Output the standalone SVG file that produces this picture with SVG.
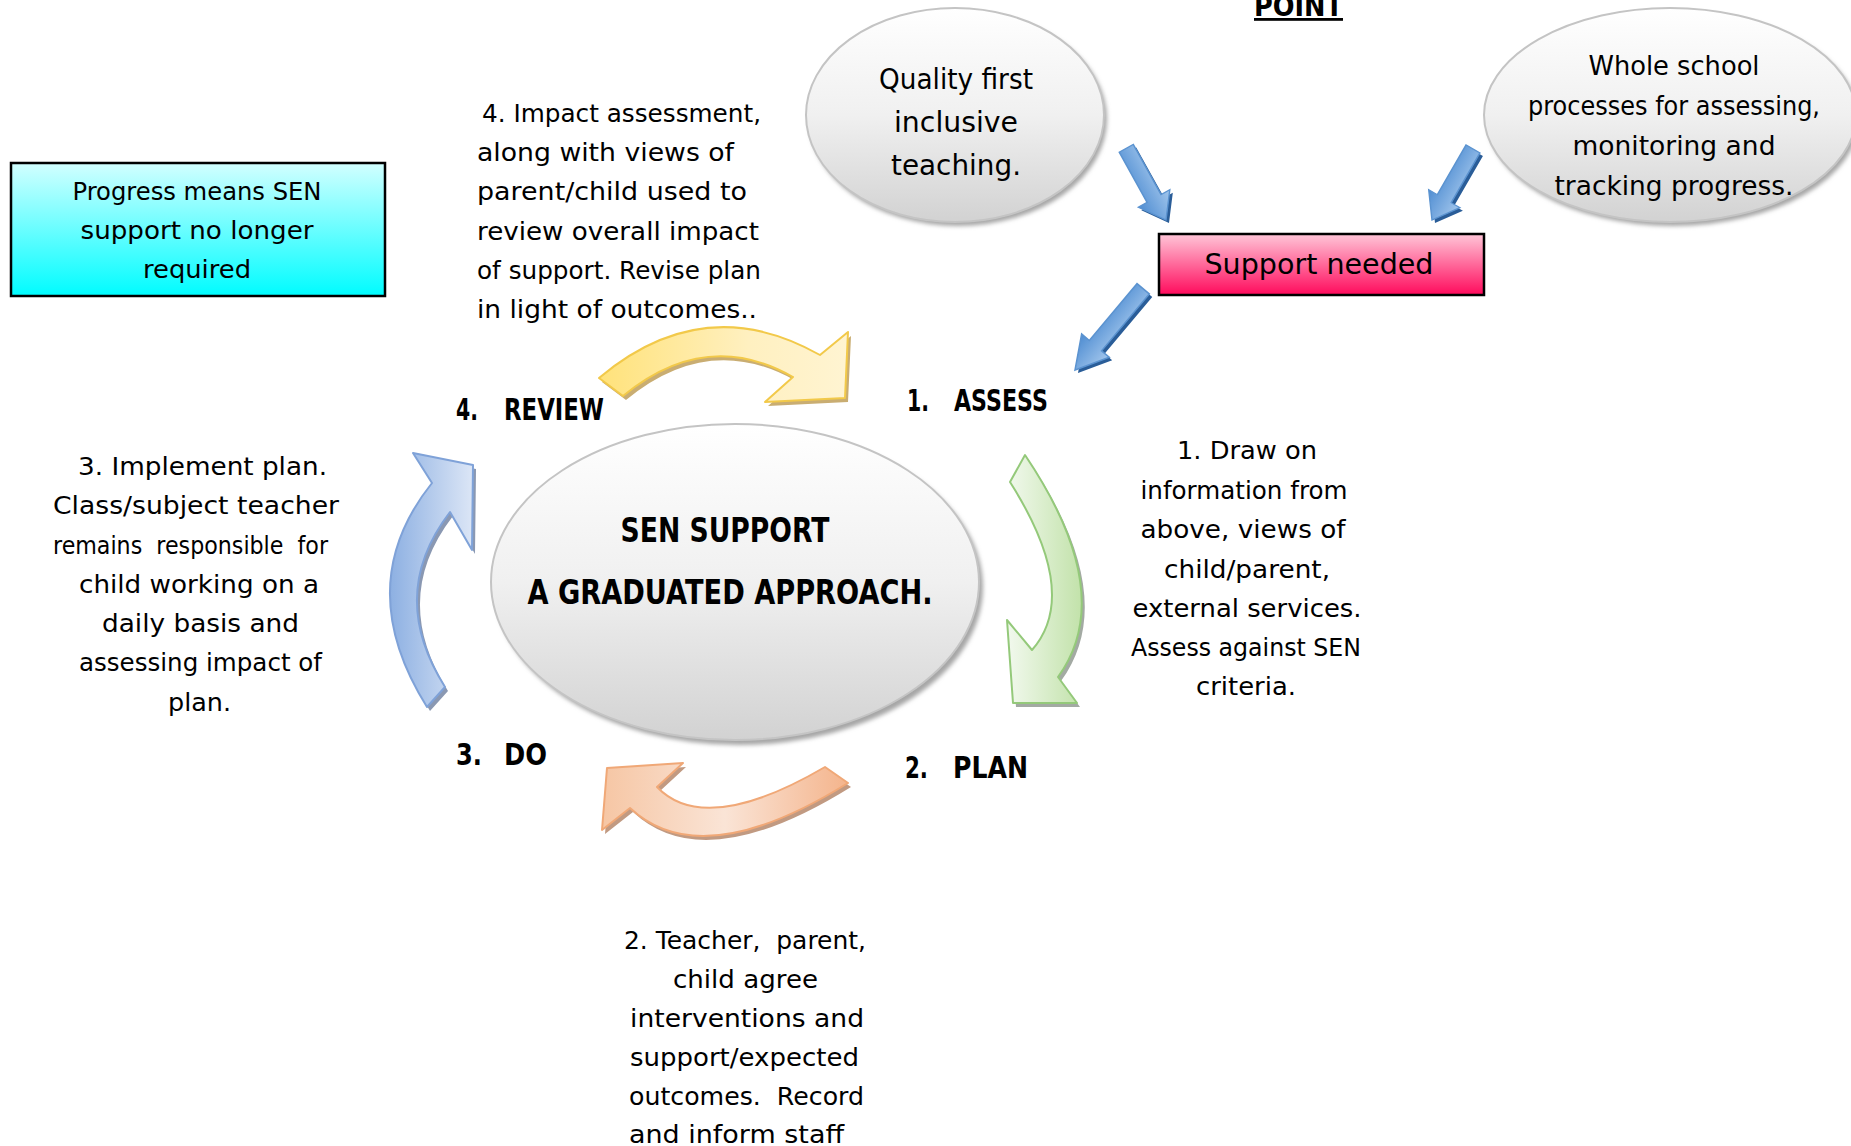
<svg xmlns="http://www.w3.org/2000/svg" width="1851" height="1146" viewBox="0 0 1851 1146">
<style>
  text { font-family: "DejaVu Sans", Verdana, sans-serif; fill: #000; }
  .body { font-size: 25px; }
  .mid { text-anchor: middle; }
  .bold { font-weight: bold; }
  .pre { white-space: pre; }
  .lab { font-size: 30px; font-weight: bold; }
  .ell { stroke: #c4c4c4; stroke-width: 2; }
  .shadow { fill: #a6a6a6; filter: url(#blur); }
</style>
<defs>
  <filter id="blur" x="-10%" y="-10%" width="120%" height="120%"><feGaussianBlur stdDeviation="2"/></filter>
  <linearGradient id="gGray" x1="0" y1="0" x2="0" y2="1">
    <stop offset="0" stop-color="#ffffff"/><stop offset="0.5" stop-color="#f0f0f0"/><stop offset="1" stop-color="#d2d2d2"/>
  </linearGradient>
  <linearGradient id="gPink" x1="0" y1="0" x2="0" y2="1">
    <stop offset="0" stop-color="#ffc6d8"/><stop offset="1" stop-color="#ff0a5c"/>
  </linearGradient>
  <linearGradient id="gCyan" x1="0" y1="0" x2="0" y2="1">
    <stop offset="0" stop-color="#d2ffff"/><stop offset="1" stop-color="#00fcff"/>
  </linearGradient>
  <linearGradient id="gBlue" x1="0" y1="0" x2="0" y2="1">
    <stop offset="0" stop-color="#a2c6ec"/><stop offset="1" stop-color="#4f8dd2"/>
  </linearGradient>
  <linearGradient id="gYellow" x1="0" y1="0" x2="1" y2="0">
    <stop offset="0" stop-color="#ffe27a"/><stop offset="0.6" stop-color="#fff0c0"/><stop offset="1" stop-color="#fff4d2"/>
  </linearGradient>
  <linearGradient id="gOrange" x1="0" y1="0" x2="1" y2="0">
    <stop offset="0" stop-color="#f6c6a4"/><stop offset="0.5" stop-color="#fae4d6"/><stop offset="1" stop-color="#f4b48c"/>
  </linearGradient>
  <linearGradient id="gGreen" x1="0" y1="0" x2="1" y2="0">
    <stop offset="0" stop-color="#f2f9ee"/><stop offset="1" stop-color="#c2e2aa"/>
  </linearGradient>
  <linearGradient id="gLBlue" x1="0" y1="0" x2="1" y2="0">
    <stop offset="0" stop-color="#8db0e2"/><stop offset="1" stop-color="#dce6f6"/>
  </linearGradient>
  <polygon id="blueArrowShape" points="-100,-8 -30,-8 -30,-18 0,0 -30,18 -30,8 -100,8"/>
</defs>

<g id="point-title">
  <text class="bold" x="1254" y="16" font-size="28" textLength="89" lengthAdjust="spacingAndGlyphs" text-decoration="underline">POINT</text>
</g>

<g id="quality-first">
  <ellipse class="shadow" cx="958" cy="119" rx="149" ry="107"/>
  <ellipse class="ell" cx="955" cy="115" rx="149" ry="107" fill="url(#gGray)"/>
  <text class="mid" font-size="28" x="956" y="89" textLength="154" lengthAdjust="spacingAndGlyphs">Quality first</text>
  <text class="mid" font-size="28" x="956" y="132" textLength="124" lengthAdjust="spacingAndGlyphs">inclusive</text>
  <text class="mid" font-size="28" x="956" y="175" textLength="130" lengthAdjust="spacingAndGlyphs">teaching.</text>
</g>

<g id="whole-school">
  <ellipse class="shadow" cx="1673" cy="119" rx="186" ry="107"/>
  <ellipse class="ell" cx="1670" cy="115" rx="186" ry="107" fill="url(#gGray)"/>
  <text class="mid" font-size="26" x="1674" y="75" textLength="171" lengthAdjust="spacingAndGlyphs">Whole school</text>
  <text class="mid" font-size="26" x="1674" y="115" textLength="292" lengthAdjust="spacingAndGlyphs">processes for assessing,</text>
  <text class="mid" font-size="26" x="1674" y="155" textLength="203" lengthAdjust="spacingAndGlyphs">monitoring and</text>
  <text class="mid" font-size="26" x="1674" y="195" textLength="239" lengthAdjust="spacingAndGlyphs">tracking progress.</text>
</g>

<g id="support-needed">
  <rect x="1159" y="234" width="325" height="61" fill="url(#gPink)" stroke="#000" stroke-width="2.5"/>
  <text class="mid" font-size="28" x="1319" y="274" textLength="229" lengthAdjust="spacingAndGlyphs">Support needed</text>
</g>

<g id="progress-box">
  <rect x="11" y="163" width="374" height="133" fill="url(#gCyan)" stroke="#000" stroke-width="2.5"/>
  <text class="body mid" x="197" y="200" textLength="249" lengthAdjust="spacingAndGlyphs">Progress means SEN</text>
  <text class="body mid" x="197" y="239" textLength="233" lengthAdjust="spacingAndGlyphs">support no longer</text>
  <text class="body mid" x="197" y="278" textLength="108" lengthAdjust="spacingAndGlyphs">required</text>
</g>

<g id="sen-support">
  <ellipse class="shadow" cx="739" cy="587" rx="244" ry="158"/>
  <ellipse class="ell" cx="735" cy="582" rx="244" ry="158" fill="url(#gGray)"/>
  <text class="bold mid" font-size="33" x="725" y="542" textLength="209" lengthAdjust="spacingAndGlyphs">SEN SUPPORT</text>
  <text class="bold mid" font-size="33" x="730" y="604" textLength="405" lengthAdjust="spacingAndGlyphs">A GRADUATED APPROACH.</text>
</g>

<g id="label-review">
  <text class="lab" y="420"><tspan x="456" textLength="22" lengthAdjust="spacingAndGlyphs">4.</tspan><tspan x="504" textLength="100" lengthAdjust="spacingAndGlyphs">REVIEW</tspan></text>
</g>
<g id="label-assess">
  <text class="lab" y="411"><tspan x="907" textLength="22" lengthAdjust="spacingAndGlyphs">1.</tspan><tspan x="954" textLength="94" lengthAdjust="spacingAndGlyphs">ASSESS</tspan></text>
</g>
<g id="label-plan">
  <text class="lab" y="778"><tspan x="905" textLength="23" lengthAdjust="spacingAndGlyphs">2.</tspan><tspan x="953" textLength="75" lengthAdjust="spacingAndGlyphs">PLAN</tspan></text>
</g>
<g id="label-do">
  <text class="lab" y="765"><tspan x="456" textLength="26" lengthAdjust="spacingAndGlyphs">3.</tspan><tspan x="504" textLength="43" lengthAdjust="spacingAndGlyphs">DO</tspan></text>
</g>

<g id="note-review">
  <text class="body" x="482" y="122" textLength="279" lengthAdjust="spacingAndGlyphs">4. Impact assessment,</text>
  <text class="body" x="477" y="161" textLength="257" lengthAdjust="spacingAndGlyphs">along with views of</text>
  <text class="body" x="477" y="200" textLength="270" lengthAdjust="spacingAndGlyphs">parent/child used to</text>
  <text class="body" x="477" y="240" textLength="282" lengthAdjust="spacingAndGlyphs">review overall impact</text>
  <text class="body" x="477" y="279" textLength="284" lengthAdjust="spacingAndGlyphs">of support. Revise plan</text>
  <text class="body" x="477" y="318" textLength="280" lengthAdjust="spacingAndGlyphs">in light of outcomes..</text>
</g>

<g id="note-assess">
  <text class="body mid" x="1247" y="459" textLength="140" lengthAdjust="spacingAndGlyphs">1. Draw on</text>
  <text class="body mid" x="1244" y="499" textLength="207" lengthAdjust="spacingAndGlyphs">information from</text>
  <text class="body mid" x="1243" y="538" textLength="205" lengthAdjust="spacingAndGlyphs">above, views of</text>
  <text class="body mid" x="1247" y="578" textLength="166" lengthAdjust="spacingAndGlyphs">child/parent,</text>
  <text class="body mid" x="1247" y="617" textLength="229" lengthAdjust="spacingAndGlyphs">external services.</text>
  <text class="body mid" x="1246" y="656" textLength="230" lengthAdjust="spacingAndGlyphs">Assess against SEN</text>
  <text class="body mid" x="1246" y="695" textLength="100" lengthAdjust="spacingAndGlyphs">criteria.</text>
</g>

<g id="note-do">
  <text class="body" x="78" y="475" textLength="249" lengthAdjust="spacingAndGlyphs">3. Implement plan.</text>
  <text class="body" x="53" y="514" textLength="286" lengthAdjust="spacingAndGlyphs">Class/subject teacher</text>
  <text class="body pre" x="53" y="554" textLength="275" lengthAdjust="spacingAndGlyphs">remains  responsible  for</text>
  <text class="body" x="79" y="593" textLength="240" lengthAdjust="spacingAndGlyphs">child working on a</text>
  <text class="body" x="102" y="632" textLength="197" lengthAdjust="spacingAndGlyphs">daily basis and</text>
  <text class="body" x="79" y="671" textLength="243" lengthAdjust="spacingAndGlyphs">assessing impact of</text>
  <text class="body" x="168" y="711" textLength="63" lengthAdjust="spacingAndGlyphs">plan.</text>
</g>

<g id="note-plan">
  <text class="body pre" x="624" y="949" textLength="242" lengthAdjust="spacingAndGlyphs">2. Teacher,  parent,</text>
  <text class="body" x="673" y="988" textLength="145" lengthAdjust="spacingAndGlyphs">child agree</text>
  <text class="body" x="630" y="1027" textLength="234" lengthAdjust="spacingAndGlyphs">interventions and</text>
  <text class="body" x="630" y="1066" textLength="229" lengthAdjust="spacingAndGlyphs">support/expected</text>
  <text class="body pre" x="629" y="1105" textLength="235" lengthAdjust="spacingAndGlyphs">outcomes.  Record</text>
  <text class="body" x="629" y="1143" textLength="215" lengthAdjust="spacingAndGlyphs">and inform staff</text>
</g>

<g id="connectors">
  <!-- straight blue arrows -->
  <g transform="translate(1169,223) rotate(61) scale(0.82,1)">
    <use href="#blueArrowShape" fill="#2a5d98"/>
  </g>
  <g transform="translate(1166,220) rotate(61) scale(0.82,1)">
    <use href="#blueArrowShape" fill="url(#gBlue)" stroke="#5b93d0" stroke-width="1.5"/>
  </g>
  <g transform="translate(1435,223) rotate(120) scale(0.82,1)">
    <use href="#blueArrowShape" fill="#2a5d98"/>
  </g>
  <g transform="translate(1432,220) rotate(120) scale(0.82,1)">
    <use href="#blueArrowShape" fill="url(#gBlue)" stroke="#5b93d0" stroke-width="1.5"/>
  </g>
  <g transform="translate(1078,373) rotate(130) scale(1.06,1)">
    <use href="#blueArrowShape" fill="#2a5d98"/>
  </g>
  <g transform="translate(1075,370) rotate(130) scale(1.06,1)">
    <use href="#blueArrowShape" fill="url(#gBlue)" stroke="#5b93d0" stroke-width="1.5"/>
  </g>

  <!-- yellow (review -> assess) -->
  <path d="M599,378 Q704.5,289.5 820,355 L848,332 L845,398 L765,402 L793,377 Q706,327.5 623,396 Z" fill="#c9ad72" transform="translate(3,4)"/>
  <path d="M599,378 Q704.5,289.5 820,355 L848,332 L845,398 L765,402 L793,377 Q706,327.5 623,396 Z" fill="url(#gYellow)" stroke="#f2c94a" stroke-width="2" stroke-linejoin="round"/>

  <!-- green (assess -> plan) -->
  <path d="M1010,482 L1025,455 Q1118.5,594 1058,677 L1077,703 L1013,703 L1007,620 L1032,650 Q1081,594 1010,482 Z" fill="#a3aaa3" transform="translate(3,4)"/>
  <path d="M1010,482 L1025,455 Q1118.5,594 1058,677 L1077,703 L1013,703 L1007,620 L1032,650 Q1081,594 1010,482 Z" fill="url(#gGreen)" stroke="#94c97a" stroke-width="2" stroke-linejoin="round"/>

  <!-- orange (plan -> do) -->
  <path d="M607,768 L683,763 L657,787 Q705,837 825,767 L848,783 Q701,874.5 630,808 L602,830 Z" fill="#c19a82" transform="translate(3,4)"/>
  <path d="M607,768 L683,763 L657,787 Q705,837 825,767 L848,783 Q701,874.5 630,808 L602,830 Z" fill="url(#gOrange)" stroke="#f0a877" stroke-width="2" stroke-linejoin="round"/>

  <!-- light blue (do -> review) -->
  <path d="M427,707 Q350.5,585 432,483 L413,453 L473,465 L472,550 L450,512 Q386.5,594.5 445,687 Z" fill="#8a98b2" transform="translate(3,4)"/>
  <path d="M427,707 Q350.5,585 432,483 L413,453 L473,465 L472,550 L450,512 Q386.5,594.5 445,687 Z" fill="url(#gLBlue)" stroke="#7fa2d8" stroke-width="2" stroke-linejoin="round"/>
</g>
</svg>
